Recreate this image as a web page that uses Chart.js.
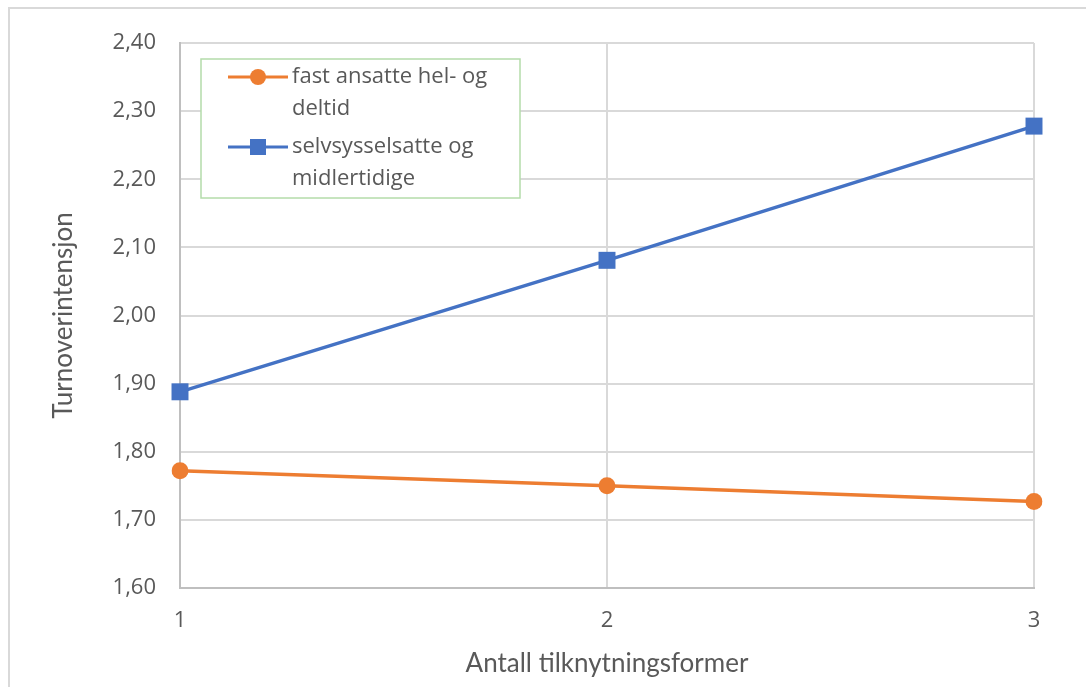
<!DOCTYPE html>
<html>
<head>
<meta charset="utf-8">
<script src="https://cdn.jsdelivr.net/npm/chart.js@4.4.1/dist/chart.umd.min.js"></script>
<style>
  html, body { margin: 0; padding: 0; background: #ffffff; }
  #wrap { position: relative; width: 1086px; height: 687px; }
  canvas { display: block; }
</style>
</head>
<body>
<div id="wrap"><canvas id="chart" width="1086" height="687"></canvas></div>
<script>
// Number of employment forms on the x axis
const categories = ['1', '2', '3'];

// Turnover intention per group
const fastAnsatte = [1.772, 1.750, 1.727];
const selvsysselsatte = [1.888, 2.081, 2.278];

const seriesNames = ['fast ansatte hel- og deltid', 'selvsysselsatte og midlertidige'];
const legendLines = [['fast ansatte hel- og', 'deltid'], ['selvsysselsatte og', 'midlertidige']];

const yTitle = 'Turnoverintensjon';
const xTitle = 'Antall tilknytningsformer';

const ORANGE = '#ed7d31';
const BLUE = '#4472c4';
const TEXT = '#595959';
const GRID = '#d9d9d9';
const AXIS = '#bfbfbf';

const fmt = v => v.toFixed(2).replace('.', ',');

// Outer frame around the whole chart
const framePlugin = {
  id: 'frame',
  beforeDraw(chart) {
    const ctx = chart.ctx;
    ctx.save();
    ctx.strokeStyle = '#d9d9d9';
    ctx.lineWidth = 2;
    ctx.beginPath();
    ctx.moveTo(9, 700);
    ctx.lineTo(9, 8);
    ctx.lineTo(1100, 8);
    ctx.stroke();
    ctx.restore();
  }
};

// Legend box drawn inside the plot area, with wrapped labels
const boxLegendPlugin = {
  id: 'boxLegend',
  afterDraw(chart) {
    const ctx = chart.ctx;
    const x0 = 201, y0 = 59, w = 319, h = 139;
    ctx.save();
    ctx.fillStyle = '#ffffff';
    ctx.fillRect(x0, y0, w, h);
    ctx.strokeStyle = '#b4dcaa';
    ctx.lineWidth = 1.5;
    ctx.strokeRect(x0, y0, w, h);

    const rows = [77, 147];
    chart.data.datasets.forEach((ds, i) => {
      const cy = rows[i];
      ctx.strokeStyle = ds.borderColor;
      ctx.lineWidth = 3;
      ctx.beginPath();
      ctx.moveTo(228, cy);
      ctx.lineTo(288, cy);
      ctx.stroke();
      ctx.fillStyle = ds.backgroundColor;
      if (ds.pointStyle === 'rect') {
        ctx.fillRect(258 - 8, cy - 8, 16, 16);
      } else {
        ctx.beginPath();
        ctx.arc(258, cy, 8, 0, Math.PI * 2);
        ctx.fill();
      }
      ctx.fillStyle = TEXT;
      ctx.font = '22px "Open Sans"';
      ctx.textBaseline = 'middle';
      ctx.textAlign = 'left';
      legendLines[i].forEach((line, j) => {
        ctx.fillText(line, 292, cy + j * 32);
      });
    });
    ctx.restore();
  }
};

new Chart(document.getElementById('chart'), {
  type: 'line',
  data: {
    labels: categories,
    datasets: [
      {
        label: seriesNames[0],
        data: fastAnsatte,
        borderColor: ORANGE,
        backgroundColor: ORANGE,
        borderWidth: 3.5,
        pointStyle: 'circle',
        pointRadius: 8.5,
        pointHoverRadius: 8.5,
        pointBorderWidth: 0,
        tension: 0
      },
      {
        label: seriesNames[1],
        data: selvsysselsatte,
        borderColor: BLUE,
        backgroundColor: BLUE,
        borderWidth: 3.5,
        pointStyle: 'rect',
        pointRadius: 12,
        pointHoverRadius: 12,
        pointBorderWidth: 0,
        tension: 0
      }
    ]
  },
  options: {
    responsive: false,
    animation: false,
    events: [],
    layout: { padding: { top: 43, right: 52, left: 0, bottom: 0 } },
    plugins: {
      legend: { display: false },
      tooltip: { enabled: false }
    },
    scales: {
      x: {
        type: 'category',
        offset: false,
        grid: { color: GRID, lineWidth: 2, drawTicks: false },
        border: { color: AXIS, width: 2 },
        ticks: { color: TEXT, font: { family: 'Open Sans', size: 22 }, padding: 20 },
        title: {
          display: true,
          text: xTitle,
          color: TEXT,
          font: { family: 'Lato', size: 26 },
          padding: { top: 0, bottom: 8 }
        },
        afterFit(scale) { scale.height = 99; }
      },
      y: {
        min: 1.6,
        max: 2.4,
        ticks: {
          stepSize: 0.1,
          color: TEXT,
          font: { family: 'Open Sans', size: 22 },
          padding: 24,
          callback: v => fmt(v)
        },
        grid: { color: GRID, lineWidth: 2, drawTicks: false },
        border: { color: AXIS, width: 2 },
        title: {
          display: true,
          text: yTitle,
          color: TEXT,
          font: { family: 'Lato', size: 26 },
          padding: { top: 48, bottom: 0 }
        },
        afterFit(scale) { scale.width = 180; }
      }
    }
  },
  plugins: [framePlugin, boxLegendPlugin]
});
</script>
</body>
</html>
